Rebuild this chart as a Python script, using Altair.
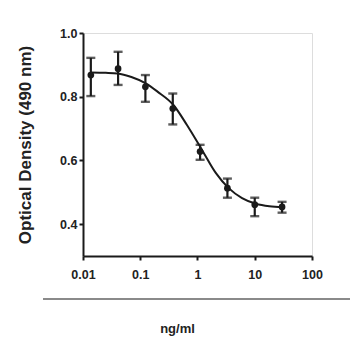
import altair as alt
import pandas as pd

# measured points (3-fold dilutions)
conc = [0.0137, 0.041, 0.123, 0.37, 1.11, 3.33, 10, 30]
od = [0.868, 0.888, 0.831, 0.763, 0.628, 0.513, 0.461, 0.454]
od_hi = [0.922, 0.941, 0.868, 0.810, 0.649, 0.543, 0.483, 0.470]
od_lo = [0.802, 0.837, 0.784, 0.713, 0.602, 0.483, 0.425, 0.436]

# fitted curve
curve_x = [0.0137, 0.025, 0.04, 0.07, 0.125, 0.2, 0.38, 0.65, 1.2, 2.1, 3.5, 6, 10.5, 18, 31]
curve_y = [0.876, 0.875, 0.873, 0.862, 0.842, 0.816, 0.774, 0.712, 0.633, 0.560, 0.513, 0.482, 0.464, 0.456, 0.453]

x_ticks = [0.01, 0.1, 1, 10, 100]
y_ticks = [0.4, 0.6, 0.8, 1.0]

pts = pd.DataFrame({"conc": conc, "od": od, "hi": od_hi, "lo": od_lo})
crv = pd.DataFrame({"conc": curve_x, "od": curve_y})

FONT = "Liberation Sans"
INK = "#1a1a1a"

xs = alt.Scale(type="log", domain=[0.01, 100], nice=False)
ys = alt.Scale(domain=[0.3, 1.0], nice=False, zero=False)

x_axis = alt.Axis(
    values=x_ticks,
    labelExpr="datum.value >= 1 ? format(datum.value, 'd') : format(datum.value, '.2~f')",
    grid=False, domainWidth=2, domainColor=INK, tickColor=INK, tickWidth=2, tickSize=4,
    labelFont=FONT, labelFontWeight="bold", labelFontSize=12.5, labelColor="#222",
    labelPadding=8, labelFlush=False,
    title="ng/ml", titleFont=FONT, titleFontWeight="bold", titleFontSize=13,
    titleColor="#222", titleX=94, titleY=72, titleBaseline="middle", titleAnchor="middle",
    titleAlign="center",
)
y_axis = alt.Axis(
    values=y_ticks, format=".1f",
    grid=False, domainWidth=2, domainColor=INK, tickColor=INK, tickWidth=2, tickSize=4,
    labelFont=FONT, labelFontWeight="bold", labelFontSize=12.5, labelColor="#222",
    labelPadding=2,
    title="Optical Density (490 nm)", titleFont=FONT, titleFontWeight="bold",
    titleFontSize=17, titleColor="#222", titleX=-58, titleBaseline="middle",
)

line = alt.Chart(crv).mark_line(color=INK, strokeWidth=2, interpolate="monotone").encode(
    x=alt.X("conc:Q", scale=xs, axis=x_axis),
    y=alt.Y("od:Q", scale=ys, axis=y_axis),
)
bars = alt.Chart(pts).mark_rule(color=INK, strokeWidth=2.2).encode(
    x="conc:Q", y="lo:Q", y2="hi:Q"
)
cap_hi = alt.Chart(pts).mark_tick(color=INK, orient="horizontal", size=9, thickness=2.4).encode(
    x="conc:Q", y="hi:Q"
)
cap_lo = alt.Chart(pts).mark_tick(color=INK, orient="horizontal", size=9, thickness=2.4).encode(
    x="conc:Q", y="lo:Q"
)
dots = alt.Chart(pts).mark_point(filled=True, color=INK, size=45, opacity=1).encode(
    x="conc:Q", y="od:Q"
)
sep = alt.Chart(pts).mark_rule(color="#8a8a8a", strokeWidth=2).encode(
    x=alt.value(-40), x2=alt.value(267), y=alt.value(266)
)

chart = alt.layer(line, bars, cap_hi, cap_lo, dots, sep).properties(
    width=229, height=223,
    autosize=alt.AutoSizeParams(type="none"),
    padding={"left": 75, "top": 25, "right": 38, "bottom": 94},
).configure_view(stroke=None).configure(background="white")

chart.save("out.html", embed_options={"renderer": "svg", "actions": False})
